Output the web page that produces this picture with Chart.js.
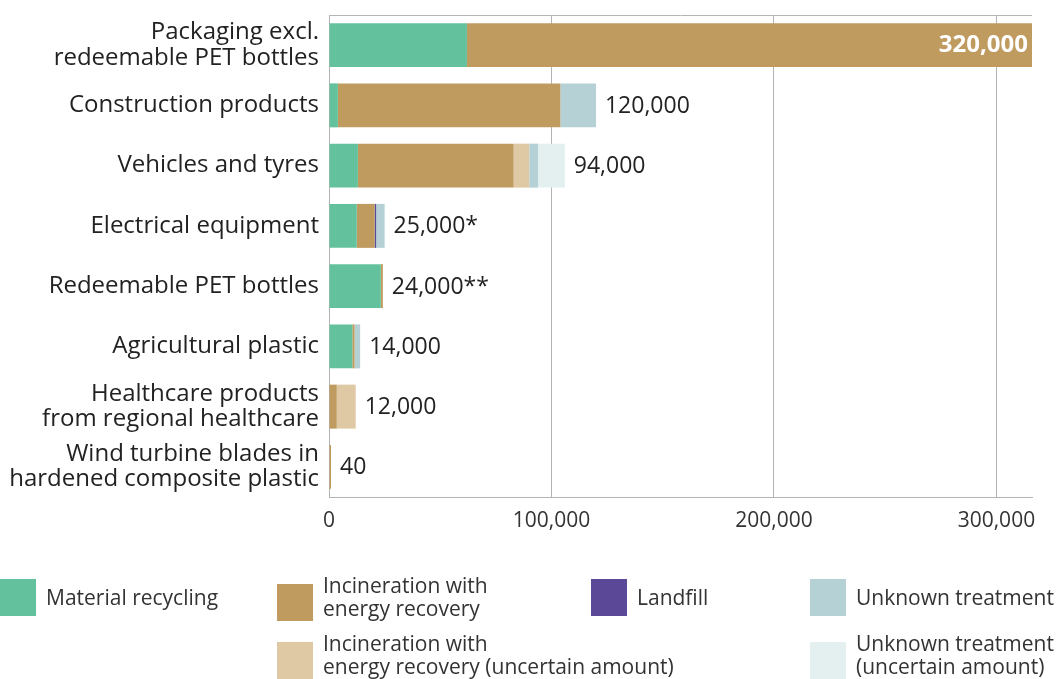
<!DOCTYPE html>
<html>
<head>
<meta charset="utf-8">
<script src="https://cdn.jsdelivr.net/npm/chart.js@4"></script>
<style>
  body { margin: 0; background: #fff; font-family: "Open Sans", sans-serif; color: #333; }
  #wrap { position: relative; width: 1060px; height: 679px; overflow: hidden; }
  #legend { position: absolute; left: 0; top: 0; width: 1060px; height: 679px; pointer-events: none; }
  .item { position: absolute; display: flex; align-items: center; }
  .sw { width: 36px; height: 37px; flex: none; }
  .tx { margin-left: 10px; font-size: 21px; line-height: 23px; color: #333; white-space: nowrap; }
  .tx.two { position: relative; top: -5px; }
</style>
</head>
<body>
<div id="wrap">
  <canvas id="myChart" width="1060" height="545"></canvas>
  <div id="legend"></div>
</div>
<script>
var categories = [
  ['Packaging excl.', 'redeemable PET bottles'],
  'Construction products',
  'Vehicles and tyres',
  'Electrical equipment',
  'Redeemable PET bottles',
  'Agricultural plastic',
  ['Healthcare products', 'from regional healthcare'],
  ['Wind turbine blades in', 'hardened composite plastic']
];

// tonnes per treatment route
var recycling       = [62000, 4000, 13000, 12500, 23300, 10500, null, null];
var incineration    = [258000, 100000, 70000, 8000, 700, 1000, 3500, 40];
var landfill        = [null, null, null, 700, null, null, null, null];
var incinUncertain  = [null, null, 7000, null, null, null, 8500, null];
var unknown         = [null, 16000, 4000, 3800, null, 2500, null, null];
var unknownUncertain = [null, null, 12000, null, null, null, null, null];

var totalLabels = ['320,000', '120,000', '94,000', '25,000*', '24,000**', '14,000', '12,000', '40'];
var xTicks = [0, 100000, 200000, 300000];

var datasets = [
  { label: 'Material recycling', data: recycling, backgroundColor: '#63c29d', legend: [0, 579] },
  { label: 'Incineration with\nenergy recovery', data: incineration, backgroundColor: '#bf9b60', minBarLength: 2, legend: [277, 579] },
  { label: 'Landfill', data: landfill, backgroundColor: '#5b4897', legend: [591, 579] },
  { label: 'Incineration with\nenergy recovery (uncertain amount)', data: incinUncertain, backgroundColor: '#dfc9a5', legend: [277, 637] },
  { label: 'Unknown treatment', data: unknown, backgroundColor: '#b5d1d6', legend: [810, 579] },
  { label: 'Unknown treatment\n(uncertain amount)', data: unknownUncertain, backgroundColor: '#e4eff0', legend: [810, 637] }
];

// totals written at the end of each stacked bar
var totalsPlugin = {
  id: 'totals',
  afterDatasetsDraw: function(chart) {
    var ctx = chart.ctx, area = chart.chartArea;
    categories.forEach(function(c, i) {
      var end = -Infinity, y = null;
      chart.data.datasets.forEach(function(ds, d) {
        var el = chart.getDatasetMeta(d).data[i];
        if (ds.data[i] != null && el) { end = Math.max(end, el.x); y = el.y; }
      });
      if (y === null) return;
      ctx.save();
      ctx.textBaseline = 'middle';
      if (end > area.right - 80) {
        ctx.font = 'bold 24px "Open Sans"';
        ctx.fillStyle = '#fff';
        ctx.textAlign = 'right';
        ctx.fillText(totalLabels[i], area.right - 4, y);
      } else {
        ctx.font = '23px "Open Sans"';
        ctx.fillStyle = '#222';
        ctx.textAlign = 'left';
        ctx.fillText(totalLabels[i], end + 9, y + 1);
      }
      ctx.restore();
    });
  }
};

// thin frame line along the top of the plot
var topLine = {
  id: 'topLine',
  beforeDatasetsDraw: function(chart) {
    var ctx = chart.ctx, a = chart.chartArea;
    ctx.save();
    ctx.strokeStyle = '#b4b4b4';
    ctx.lineWidth = 1;
    ctx.beginPath();
    ctx.moveTo(a.left, a.top + 0.5);
    ctx.lineTo(a.right, a.top + 0.5);
    ctx.stroke();
    ctx.restore();
  }
};

var ctx = document.getElementById('myChart');
var myChart = new Chart(ctx, {
  type: 'bar',
  data: {
    labels: categories,
    datasets: datasets.map(function(d) {
      return {
        label: d.label,
        data: d.data,
        backgroundColor: d.backgroundColor,
        minBarLength: d.minBarLength,
        borderWidth: 0,
        barPercentage: 0.73,
        categoryPercentage: 1
      };
    })
  },
  options: {
    indexAxis: 'y',
    responsive: false,
    animation: false,
    devicePixelRatio: 1,
    layout: { padding: { top: 15, right: 28, left: 0, bottom: 0 } },
    plugins: {
      legend: { display: false },
      tooltip: { enabled: false }
    },
    scales: {
      x: {
        stacked: true,
        min: 0,
        max: 316000,
        afterBuildTicks: function(s) {
          s.ticks = xTicks.map(function(v) { return { value: v }; });
        },
        afterFit: function(s) { s.height = 48; s.paddingLeft = 0; s.paddingRight = 0; },
        grid: { color: '#b4b4b4', drawTicks: false },
        border: { color: '#b4b4b4' },
        ticks: {
          padding: 11,
          color: '#333',
          font: { family: 'Open Sans', size: 21 },
          callback: function(v) { return v.toLocaleString('en-US'); }
        }
      },
      y: {
        stacked: true,
        afterFit: function(s) { s.width = 329; s.paddingTop = 0; s.paddingBottom = 0; },
        grid: { display: false },
        border: { color: '#b4b4b4' },
        ticks: {
          padding: 2,
          color: '#222',
          font: { family: 'Open Sans', size: 24, lineHeight: 1.05 }
        }
      }
    }
  },
  plugins: [topLine, totalsPlugin]
});

// legend laid out as in the printed figure
var legend = document.getElementById('legend');
datasets.forEach(function(d) {
  var item = document.createElement('div');
  item.className = 'item';
  item.style.left = d.legend[0] + 'px';
  item.style.top = d.legend[1] + 'px';
  var sw = document.createElement('div');
  sw.className = 'sw';
  sw.style.background = d.backgroundColor;
  var tx = document.createElement('div');
  tx.className = d.label.indexOf('\n') >= 0 ? 'tx two' : 'tx';
  tx.innerHTML = d.label.replace('\n', '<br>');
  item.appendChild(sw);
  item.appendChild(tx);
  legend.appendChild(item);
});
</script>
</body>
</html>
